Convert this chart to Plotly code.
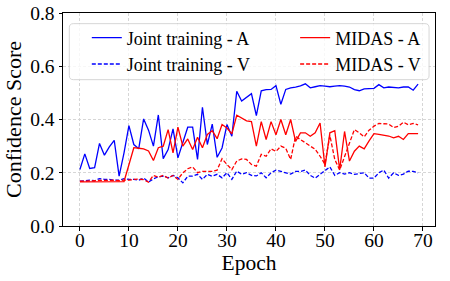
import plotly.graph_objects as go

epochs = list(range(70))

joint_a = [0.212, 0.271, 0.216, 0.219, 0.310, 0.266, 0.297, 0.322, 0.187, 0.275,
           0.377, 0.306, 0.290, 0.402, 0.360, 0.300, 0.417, 0.253, 0.287, 0.365,
           0.256, 0.318, 0.371, 0.371, 0.250, 0.446, 0.306, 0.383, 0.258, 0.293,
           0.381, 0.337, 0.506, 0.469, 0.483, 0.497, 0.415, 0.508, 0.512, 0.513,
           0.527, 0.457, 0.513, 0.519, 0.522, 0.526, 0.534, 0.519, 0.523, 0.527,
           0.525, 0.523, 0.525, 0.527, 0.525, 0.522, 0.512, 0.508, 0.515, 0.516,
           0.517, 0.531, 0.519, 0.522, 0.520, 0.519, 0.522, 0.522, 0.510, 0.533]

joint_v = [0.168, 0.170, 0.172, 0.170, 0.178, 0.175, 0.175, 0.172, 0.172, 0.178,
           0.175, 0.175, 0.172, 0.180, 0.165, 0.177, 0.185, 0.187, 0.181, 0.190,
           0.181, 0.162, 0.187, 0.187, 0.194, 0.175, 0.194, 0.187, 0.194, 0.181,
           0.200, 0.175, 0.206, 0.194, 0.200, 0.190, 0.188, 0.200, 0.181, 0.200,
           0.210, 0.205, 0.200, 0.195, 0.205, 0.205, 0.210, 0.190, 0.180, 0.195,
           0.210, 0.222, 0.190, 0.200, 0.195, 0.200, 0.194, 0.197, 0.200, 0.180,
           0.180, 0.200, 0.210, 0.180, 0.200, 0.190, 0.195, 0.206, 0.205, 0.200]

midas_a = [0.166, 0.166, 0.166, 0.166, 0.166, 0.166, 0.166, 0.166, 0.166, 0.167,
           0.230, 0.294, 0.292, 0.290, 0.282, 0.246, 0.294, 0.300, 0.362, 0.275,
           0.371, 0.300, 0.327, 0.287, 0.333, 0.294, 0.344, 0.358, 0.328, 0.381,
           0.368, 0.346, 0.416, 0.406, 0.395, 0.392, 0.300, 0.392, 0.325, 0.392,
           0.343, 0.400, 0.343, 0.400, 0.318, 0.350, 0.350, 0.337, 0.350, 0.387,
           0.222, 0.350, 0.358, 0.212, 0.355, 0.244, 0.281, 0.300, 0.290, 0.320,
           0.347, 0.344, 0.342, 0.338, 0.331, 0.337, 0.325, 0.347, 0.347, 0.347]

midas_v = [0.168, 0.168, 0.170, 0.170, 0.171, 0.170, 0.171, 0.172, 0.170, 0.172,
           0.172, 0.175, 0.176, 0.174, 0.165, 0.190, 0.183, 0.190, 0.180, 0.190,
           0.175, 0.200, 0.215, 0.222, 0.200, 0.205, 0.206, 0.205, 0.210, 0.253,
           0.231, 0.212, 0.244, 0.252, 0.250, 0.231, 0.225, 0.269, 0.262, 0.290,
           0.280, 0.300, 0.292, 0.250, 0.337, 0.325, 0.312, 0.300, 0.288, 0.262,
           0.232, 0.340, 0.250, 0.210, 0.260, 0.310, 0.362, 0.350, 0.335, 0.360,
           0.375, 0.385, 0.385, 0.383, 0.370, 0.375, 0.390, 0.380, 0.385, 0.380]

x_ticks = [0, 10, 20, 30, 40, 50, 60, 70]
y_ticks = [0.0, 0.2, 0.4, 0.6, 0.8]

FONT = "Liberation Serif"
BLUE = "#0000ff"
RED = "#ff0000"
DASH = "4px,2px"

fig = go.Figure()
fig.add_trace(go.Scatter(x=epochs, y=joint_a, mode="lines", name="Joint training - A",
                         line=dict(color=BLUE, width=1.3), legend="legend"))
fig.add_trace(go.Scatter(x=epochs, y=joint_v, mode="lines", name="Joint training - V",
                         line=dict(color=BLUE, width=1.3, dash=DASH), legend="legend"))
fig.add_trace(go.Scatter(x=epochs, y=midas_a, mode="lines", name="MIDAS - A",
                         line=dict(color=RED, width=1.3), legend="legend2"))
fig.add_trace(go.Scatter(x=epochs, y=midas_v, mode="lines", name="MIDAS - V",
                         line=dict(color=RED, width=1.3, dash=DASH), legend="legend2"))

# legend frame (rounded)
x0, x1, y0, y1 = 0.017, 0.984, 0.687, 0.95
rx, ry = 0.011, 0.019
path = (f"M{x0+rx},{y0} L{x1-rx},{y0} Q{x1},{y0} {x1},{y0+ry} L{x1},{y1-ry} "
        f"Q{x1},{y1} {x1-rx},{y1} L{x0+rx},{y1} Q{x0},{y1} {x0},{y1-ry} "
        f"L{x0},{y0+ry} Q{x0},{y0} {x0+rx},{y0} Z")
fig.add_shape(type="path", path=path, xref="paper", yref="paper",
              fillcolor="rgba(255,255,255,0.8)", line=dict(color="#cccccc", width=0.8),
              layer="above")

axis_common = dict(
    showline=True, linecolor="black", linewidth=1, mirror=True,
    ticks="outside", ticklen=3.5, tickwidth=0.8, tickcolor="black",
    showgrid=True, gridcolor="#d6d6d6", gridwidth=0.7, griddash="3px,2px",
    zeroline=False, automargin=False,
    tickfont=dict(family=FONT, size=19.5, color="black"),
)

fig.update_layout(
    width=450, height=281,
    margin=dict(l=63, r=15, t=13, b=55, autoexpand=False),
    plot_bgcolor="white", paper_bgcolor="white",
    font=dict(family=FONT, color="black"),
    xaxis=dict(range=[-3.45, 72.45], tickvals=x_ticks, ticklabelstandoff=-7,
               title=dict(text="Epoch", font=dict(family=FONT, size=21.5), standoff=0),
               **axis_common),
    yaxis=dict(range=[0, 0.8], tickvals=y_ticks, tickformat=".1f",
               title=dict(text="Confidence Score", font=dict(family=FONT, size=22), standoff=2),
               **axis_common),
    legend=dict(x=0.064, y=0.97, xanchor="left", yanchor="top",
                bgcolor="rgba(0,0,0,0)", borderwidth=0,
                font=dict(family=FONT, size=18, color="black"), tracegroupgap=0),
    legend2=dict(x=0.624, y=0.97, xanchor="left", yanchor="top",
                 bgcolor="rgba(0,0,0,0)", borderwidth=0,
                 font=dict(family=FONT, size=18, color="black"), tracegroupgap=0),
    showlegend=True,
)

fig.write_html("out.html", post_script="document.body.style.margin='0';",
               config={"displayModeBar": False})
